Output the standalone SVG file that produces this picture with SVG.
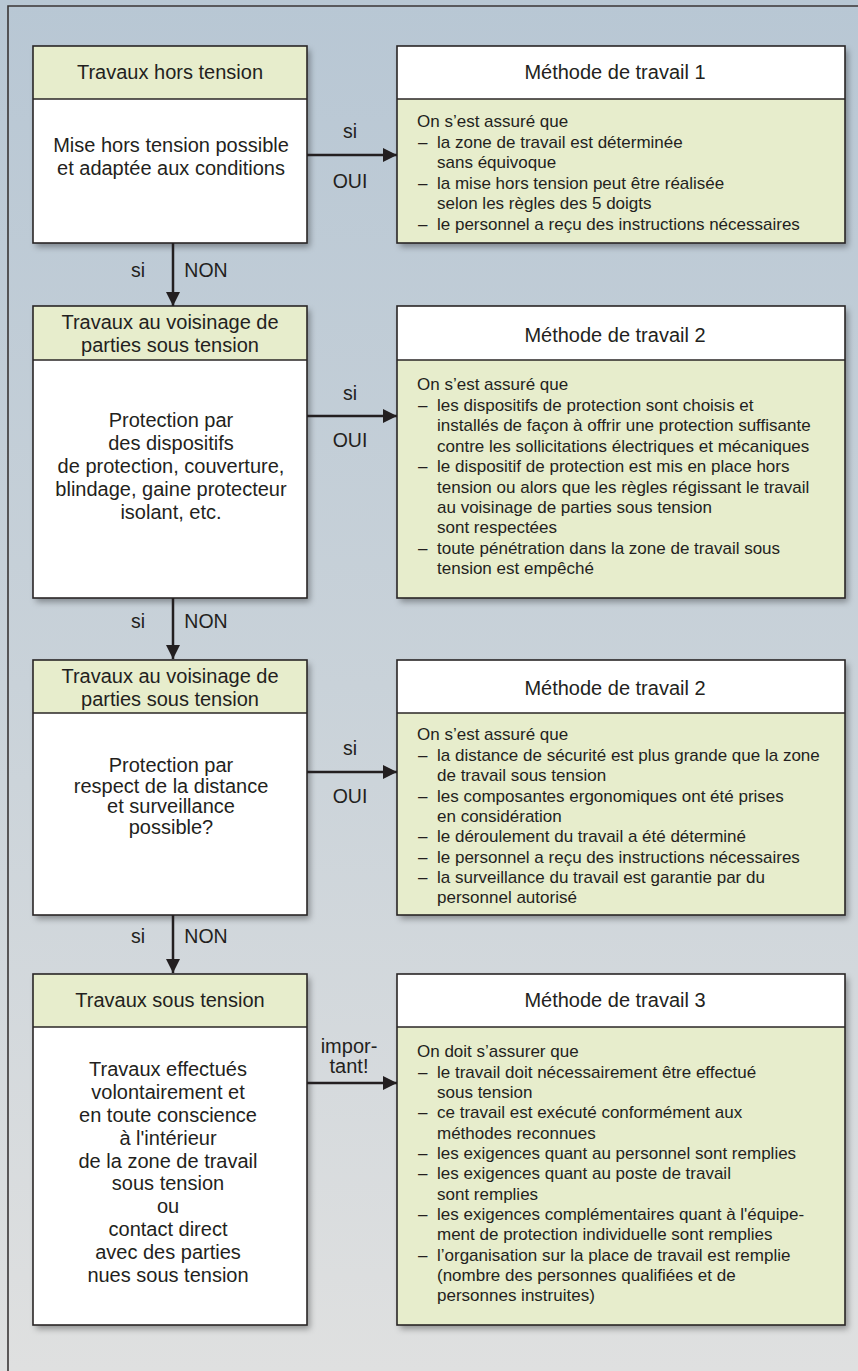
<svg xmlns="http://www.w3.org/2000/svg" width="858" height="1371" viewBox="0 0 858 1371">
<defs>
<linearGradient id="bg" x1="0" y1="0" x2="0" y2="1">
<stop offset="0" stop-color="#b8c7d4"/>
<stop offset="0.5" stop-color="#c9d2d9"/>
<stop offset="1" stop-color="#dfe0e0"/>
</linearGradient>
<filter id="sh" x="-5%" y="-5%" width="115%" height="115%">
<feDropShadow dx="3" dy="4" stdDeviation="3" flood-color="#000" flood-opacity="0.35"/>
</filter>
<marker id="ah" viewBox="0 0 14 14" refX="14" refY="7" markerWidth="14" markerHeight="14" markerUnits="userSpaceOnUse" orient="auto">
<path d="M0,0 L14,7 L0,14 Z" fill="#231f20"/>
</marker>
<style>
text{font-family:"Liberation Sans",Arial,sans-serif;fill:#231f20}
.h{font-size:20px;text-anchor:middle}
.b{font-size:20px;text-anchor:middle}
.r{font-size:17px}
.l{font-size:19.5px;text-anchor:middle}
.box{stroke:#2a2626;stroke-width:1.6}
.w{fill:#ffffff}
.g{fill:#e7edcc}
.sep{stroke:#2a2626;stroke-width:1.6}
.c{stroke:#231f20;stroke-width:2.5;fill:none}
</style>
</defs>
<rect x="0" y="0" width="858" height="1371" fill="url(#bg)"/>
<path d="M8,1371 V6 H858" fill="none" stroke="#3a3636" stroke-width="1.6"/>

<!-- Left node 1 -->
<g id="n1">
<rect x="33" y="46" width="274" height="197" class="w" filter="url(#sh)"/>
<rect x="33" y="46" width="274" height="53" class="g"/>
<rect x="33" y="46" width="274" height="197" fill="none" class="box"/>
<line x1="33" y1="99" x2="307" y2="99" class="sep"/>
<text class="h" x="170" y="79">Travaux hors tension</text>
<text class="b" x="171" y="152">Mise hors tension possible</text>
<text class="b" x="171" y="175">et adaptée aux conditions</text>
</g>

<!-- Right node 1 -->
<g id="m1">
<rect x="397" y="46" width="448" height="197" class="g" filter="url(#sh)"/>
<rect x="397" y="46" width="448" height="53" class="w"/>
<rect x="397" y="46" width="448" height="197" fill="none" class="box"/>
<line x1="397" y1="99" x2="845" y2="99" class="sep"/>
<text class="h" x="615" y="79">Méthode de travail 1</text>
<text class="r" x="417" y="127">On s’est assuré que</text>
<text class="r" x="418" y="147.5">–</text><text class="r" x="437" y="147.5">la zone de travail est déterminée</text>
<text class="r" x="437" y="168">sans équivoque</text>
<text class="r" x="418" y="188.5">–</text><text class="r" x="437" y="188.5">la mise hors tension peut être réalisée</text>
<text class="r" x="437" y="209">selon les règles des 5 doigts</text>
<text class="r" x="418" y="229.5">–</text><text class="r" x="437" y="229.5">le personnel a reçu des instructions nécessaires</text>
</g>

<!-- Left node 2 -->
<g id="n2">
<rect x="33" y="306" width="274" height="292" class="w" filter="url(#sh)"/>
<rect x="33" y="306" width="274" height="54" class="g"/>
<rect x="33" y="306" width="274" height="292" fill="none" class="box"/>
<line x1="33" y1="360" x2="307" y2="360" class="sep"/>
<text class="h" x="170" y="329">Travaux au voisinage de</text>
<text class="h" x="170" y="352">parties sous tension</text>
<text class="b" x="171" y="427">Protection par</text>
<text class="b" x="171" y="450">des dispositifs</text>
<text class="b" x="171" y="473">de protection, couverture,</text>
<text class="b" x="171" y="496">blindage, gaine protecteur</text>
<text class="b" x="171" y="519">isolant, etc.</text>
</g>

<!-- Right node 2 -->
<g id="m2">
<rect x="397" y="306" width="448" height="292" class="g" filter="url(#sh)"/>
<rect x="397" y="306" width="448" height="54" class="w"/>
<rect x="397" y="306" width="448" height="292" fill="none" class="box"/>
<line x1="397" y1="360" x2="845" y2="360" class="sep"/>
<text class="h" x="615" y="342">Méthode de travail 2</text>
<text class="r" x="417" y="390">On s’est assuré que</text>
<text class="r" x="418" y="411">–</text><text class="r" x="437" y="411">les dispositifs de protection sont choisis et</text>
<text class="r" x="437" y="431">installés de façon à offrir une protection suffisante</text>
<text class="r" x="437" y="452">contre les sollicitations électriques et mécaniques</text>
<text class="r" x="418" y="472">–</text><text class="r" x="437" y="472">le dispositif de protection est mis en place hors</text>
<text class="r" x="437" y="493">tension ou alors que les règles régissant le travail</text>
<text class="r" x="437" y="513">au voisinage de parties sous tension</text>
<text class="r" x="437" y="533">sont respectées</text>
<text class="r" x="418" y="554">–</text><text class="r" x="437" y="554">toute pénétration dans la zone de travail sous</text>
<text class="r" x="437" y="574">tension est empêché</text>
</g>

<!-- Left node 3 -->
<g id="n3">
<rect x="33" y="660" width="274" height="255" class="w" filter="url(#sh)"/>
<rect x="33" y="660" width="274" height="53" class="g"/>
<rect x="33" y="660" width="274" height="255" fill="none" class="box"/>
<line x1="33" y1="713" x2="307" y2="713" class="sep"/>
<text class="h" x="170" y="683">Travaux au voisinage de</text>
<text class="h" x="170" y="706">parties sous tension</text>
<text class="b" x="171" y="772">Protection par</text>
<text class="b" x="171" y="792.5">respect de la distance</text>
<text class="b" x="171" y="813">et surveillance</text>
<text class="b" x="171" y="833.5">possible?</text>
</g>

<!-- Right node 3 -->
<g id="m3">
<rect x="397" y="660" width="448" height="255" class="g" filter="url(#sh)"/>
<rect x="397" y="660" width="448" height="53" class="w"/>
<rect x="397" y="660" width="448" height="255" fill="none" class="box"/>
<line x1="397" y1="713" x2="845" y2="713" class="sep"/>
<text class="h" x="615" y="695">Méthode de travail 2</text>
<text class="r" x="417" y="740">On s’est assuré que</text>
<text class="r" x="418" y="760.5">–</text><text class="r" x="437" y="760.5">la distance de sécurité est plus grande que la zone</text>
<text class="r" x="437" y="781">de travail sous tension</text>
<text class="r" x="418" y="801.5">–</text><text class="r" x="437" y="801.5">les composantes ergonomiques ont été prises</text>
<text class="r" x="437" y="822">en considération</text>
<text class="r" x="418" y="842">–</text><text class="r" x="437" y="842">le déroulement du travail a été déterminé</text>
<text class="r" x="418" y="862.5">–</text><text class="r" x="437" y="862.5">le personnel a reçu des instructions nécessaires</text>
<text class="r" x="418" y="883">–</text><text class="r" x="437" y="883">la surveillance du travail est garantie par du</text>
<text class="r" x="437" y="903">personnel autorisé</text>
</g>

<!-- Left node 4 -->
<g id="n4">
<rect x="33" y="974" width="274" height="351" class="w" filter="url(#sh)"/>
<rect x="33" y="974" width="274" height="53" class="g"/>
<rect x="33" y="974" width="274" height="351" fill="none" class="box"/>
<line x1="33" y1="1027" x2="307" y2="1027" class="sep"/>
<text class="h" x="170" y="1007">Travaux sous tension</text>
<text class="b" x="168" y="1076">Travaux effectués</text>
<text class="b" x="168" y="1099">volontairement et</text>
<text class="b" x="168" y="1122">en toute conscience</text>
<text class="b" x="168" y="1145">à l'intérieur</text>
<text class="b" x="168" y="1168">de la zone de travail</text>
<text class="b" x="168" y="1190">sous tension</text>
<text class="b" x="168" y="1213">ou</text>
<text class="b" x="168" y="1236">contact direct</text>
<text class="b" x="168" y="1259">avec des parties</text>
<text class="b" x="168" y="1282">nues sous tension</text>
</g>

<!-- Right node 4 -->
<g id="m4">
<rect x="397" y="974" width="448" height="351" class="g" filter="url(#sh)"/>
<rect x="397" y="974" width="448" height="53" class="w"/>
<rect x="397" y="974" width="448" height="351" fill="none" class="box"/>
<line x1="397" y1="1027" x2="845" y2="1027" class="sep"/>
<text class="h" x="615" y="1007">Méthode de travail 3</text>
<text class="r" x="417" y="1057">On doit s’assurer que</text>
<text class="r" x="418" y="1077.5">–</text><text class="r" x="437" y="1077.5">le travail doit nécessairement être effectué</text>
<text class="r" x="437" y="1098">sous tension</text>
<text class="r" x="418" y="1118">–</text><text class="r" x="437" y="1118">ce travail est exécuté conformément aux</text>
<text class="r" x="437" y="1138.5">méthodes reconnues</text>
<text class="r" x="418" y="1159">–</text><text class="r" x="437" y="1159">les exigences quant au personnel sont remplies</text>
<text class="r" x="418" y="1179">–</text><text class="r" x="437" y="1179">les exigences quant au poste de travail</text>
<text class="r" x="437" y="1199.5">sont remplies</text>
<text class="r" x="418" y="1220">–</text><text class="r" x="437" y="1220">les exigences complémentaires quant à l'équipe-</text>
<text class="r" x="437" y="1240">ment de protection individuelle sont remplies</text>
<text class="r" x="418" y="1260.5">–</text><text class="r" x="437" y="1260.5">l’organisation sur la place de travail est remplie</text>
<text class="r" x="437" y="1281">(nombre des personnes qualifiées et de</text>
<text class="r" x="437" y="1301">personnes instruites)</text>
</g>

<!-- Connectors -->
<g id="connectors">
<line x1="307" y1="155" x2="397" y2="155" class="c" marker-end="url(#ah)"/>
<text class="l" x="350" y="138">si</text>
<text class="l" x="350" y="188">OUI</text>
<line x1="173" y1="243" x2="173" y2="306" class="c" marker-end="url(#ah)"/>
<text class="l" x="138" y="277">si</text>
<text class="l" x="206" y="277">NON</text>

<line x1="307" y1="416" x2="397" y2="416" class="c" marker-end="url(#ah)"/>
<text class="l" x="350" y="400">si</text>
<text class="l" x="350" y="447">OUI</text>
<line x1="173" y1="598" x2="173" y2="659" class="c" marker-end="url(#ah)"/>
<text class="l" x="138" y="628">si</text>
<text class="l" x="206" y="628">NON</text>

<line x1="307" y1="772" x2="397" y2="772" class="c" marker-end="url(#ah)"/>
<text class="l" x="350" y="755">si</text>
<text class="l" x="350" y="803">OUI</text>
<line x1="173" y1="915" x2="173" y2="973" class="c" marker-end="url(#ah)"/>
<text class="l" x="138" y="943">si</text>
<text class="l" x="206" y="943">NON</text>

<line x1="307" y1="1083" x2="397" y2="1083" class="c" marker-end="url(#ah)"/>
<text class="l" x="349" y="1053" style="font-size:20px">impor-</text>
<text class="l" x="349" y="1073" style="font-size:20px">tant!</text>
</g>
</svg>
